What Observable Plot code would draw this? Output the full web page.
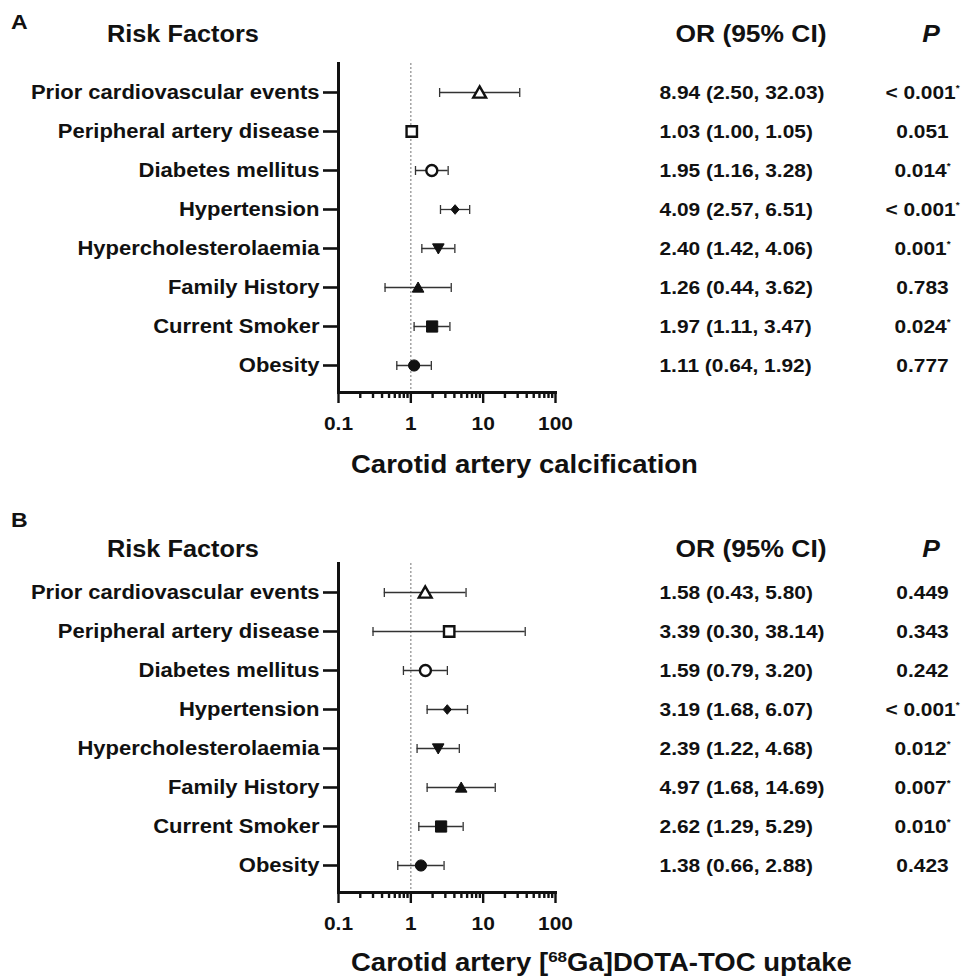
<!DOCTYPE html>
<html>
<head>
<meta charset="utf-8">
<script src="https://cdn.jsdelivr.net/npm/d3@7"></script>
<script src="https://cdn.jsdelivr.net/npm/@observablehq/plot@0.6"></script>
<style>
  body { margin: 0; background: #fff; }
  #fig { position: relative; width: 965px; height: 977px; overflow: hidden; background: #fff;
         font-family: "Liberation Sans", Arial, sans-serif; font-weight: bold; color: #111; }
  #fig svg { position: absolute; left: 0; }
  .hd { position: absolute; white-space: nowrap; line-height: 1; }
</style>
</head>
<body>
<div id="fig"></div>
<script>
// ---------------- data ----------------
const factors = ["Prior cardiovascular events", "Peripheral artery disease", "Diabetes mellitus",
  "Hypertension", "Hypercholesterolaemia", "Family History", "Current Smoker", "Obesity"];

const orA = [8.94, 1.03, 1.95, 4.09, 2.40, 1.26, 1.97, 1.11];
const loA = [2.50, 1.00, 1.16, 2.57, 1.42, 0.44, 1.11, 0.64];
const hiA = [32.03, 1.05, 3.28, 6.51, 4.06, 3.62, 3.47, 1.92];
const pA  = ["<0.001", "0.051", "0.014", "<0.001", "0.001", "0.783", "0.024", "0.777"];

const orB = [1.58, 3.39, 1.59, 3.19, 2.39, 4.97, 2.62, 1.38];
const loB = [0.43, 0.30, 0.79, 1.68, 1.22, 1.68, 1.29, 0.66];
const hiB = [5.80, 38.14, 3.20, 6.07, 4.68, 14.69, 5.29, 2.88];
const pB  = ["0.449", "0.343", "0.242", "<0.001", "0.012", "0.007", "0.010", "0.423"];

const xDomain = [0.1, 100];
const xTicks = [0.1, 1, 10, 100];
const xTickLabels = ["0.1", "1", "10", "100"];

// ---------------- marker styling (per row) ----------------
const markerShape  = ["triangle", "square", "circle", "diamond", "triangleDown", "triangle", "square", "circle"];
const markerFilled = [false, false, false, true, true, true, true, true];
const markerR      = [6.4, 5.2, 5.5, 4.8, 5.8, 5.8, 5.6, 5.6];

const rad = s => Math.sqrt(s / Math.PI);
const shapes = {
  triangle:     {draw(c, s) { const r = rad(s); c.moveTo(0, -0.95 * r); c.lineTo(r, 0.8 * r); c.lineTo(-r, 0.8 * r); c.closePath(); }},
  triangleDown: {draw(c, s) { const r = rad(s); c.moveTo(0, 0.95 * r); c.lineTo(r, -0.8 * r); c.lineTo(-r, -0.8 * r); c.closePath(); }},
  square:       {draw(c, s) { const r = rad(s); c.rect(-r, -r, 2 * r, 2 * r); }},
  circle:       {draw(c, s) { const r = rad(s); c.moveTo(r, 0); c.arc(0, 0, r, 0, 2 * Math.PI); }},
  diamond:      {draw(c, s) { const r = rad(s); c.moveTo(0, -r); c.lineTo(0.85 * r, 0); c.lineTo(0, r); c.lineTo(-0.85 * r, 0); c.closePath(); }}
};
const vbar = {draw(c, s) { const r = rad(s); c.moveTo(0, -r); c.lineTo(0, r); }};

const minorTicks = d3.scaleLog().domain(xDomain).ticks().filter(t => !xTicks.some(m => Math.abs(m - t) < 1e-9));

const FONT = "'Liberation Sans', Arial, Helvetica, sans-serif";
const STRETCH = 1.1;

function rowsOf(or, lo, hi, p) {
  return factors.map((f, i) => {
    const sig = p[i].startsWith("<") || +p[i] < 0.05;
    return {
      factor: f, or: or[i], lo: lo[i], hi: hi[i],
      orText: `${or[i].toFixed(2)} (${lo[i].toFixed(2)}, ${hi[i].toFixed(2)})`,
      pText: p[i].replace("<", "< ") + (sig ? "*" : "")
    };
  });
}

function panel(rows, height) {
  const symMarks = rows.map((d, i) => Plot.dot([d], {
    x: "or", y: "factor", symbol: shapes[markerShape[i]], r: markerR[i],
    fill: markerFilled[i] ? "#111" : "#fff", stroke: "#111",
    strokeWidth: markerFilled[i] ? 1 : 2.4
  }));
  const xEnd = () => xDomain[1];
  return Plot.plot({
    width: 965, height,
    marginLeft: 338, marginRight: 410, marginTop: 63, marginBottom: height - 392,
    style: {fontFamily: FONT, fontSize: "20px", fontWeight: "bold", color: "#111", background: "transparent", overflow: "visible"},
    x: {type: "log", domain: xDomain},
    y: {type: "point", domain: factors, range: [91.5, 365.5], padding: 0},
    marks: [
      Plot.ruleX([1], {stroke: "#8c8c8c", strokeDasharray: "2,2", strokeWidth: 1.2}),
      Plot.axisX({ticks: minorTicks, tickSize: 6, strokeWidth: 2.4, tickFormat: () => "", label: null}),
      Plot.axisX({ticks: xTicks, tickSize: 11, tickPadding: 13, strokeWidth: 2.4,
        tickFormat: d => xTickLabels[xTicks.indexOf(d)], label: null, fontSize: 19}),
      Plot.axisY({tickSize: 15, tickPadding: 4, strokeWidth: 2.6, label: null, fontSize: 20}),
      Plot.frame({anchor: "left", strokeWidth: 3}),
      Plot.frame({anchor: "bottom", strokeWidth: 3}),
      Plot.ruleY(rows, {y: "factor", x1: "lo", x2: "hi", stroke: "#333", strokeWidth: 1.3}),
      Plot.dot(rows, {x: "lo", y: "factor", symbol: vbar, r: 4.5, stroke: "#333", strokeWidth: 1.3, fill: "none"}),
      Plot.dot(rows, {x: "hi", y: "factor", symbol: vbar, r: 4.5, stroke: "#333", strokeWidth: 1.3, fill: "none"}),
      ...symMarks,
      Plot.text(rows, {x: xEnd, y: "factor", text: "orText", dx: 104, textAnchor: "start", fontSize: 19, fill: "#111"}),
      Plot.text(rows, {x: xEnd, y: "factor", text: "pText", dx: 367, textAnchor: "middle", fontSize: 19, fill: "#111", className: "pval"})
    ]
  });
}

const fig = document.getElementById("fig");

function addPanel(rows, top, height) {
  const svg = panel(rows, height);
  svg.style.top = top + "px";
  fig.appendChild(svg);
  // small superscript significance asterisk
  svg.querySelectorAll(".pval text").forEach(t => {
    const s = t.textContent;
    if (s.endsWith("*")) {
      t.textContent = s.slice(0, -1);
      const ts = document.createElementNS("http://www.w3.org/2000/svg", "tspan");
      ts.setAttribute("font-size", "9");
      ts.setAttribute("dy", "-8");
      ts.textContent = "*";
      t.appendChild(ts);
    }
  });
  // slightly wide lettering as in the original figure
  svg.querySelectorAll("text").forEach(t => {
    const w = t.getComputedTextLength();
    if (w > 0) { t.setAttribute("textLength", (w * STRETCH).toFixed(1)); t.setAttribute("lengthAdjust", "spacingAndGlyphs"); }
  });
}

addPanel(rowsOf(orA, loA, hiA, pA), 0, 500);
addPanel(rowsOf(orB, loB, hiB, pB), 500, 477);

function header(html, x, cy, size, anchor = "start", italic = false) {
  const d = document.createElement("div");
  d.className = "hd";
  d.innerHTML = html;
  d.style.fontSize = size + "px";
  d.style.left = x + "px";
  d.style.top = (cy - 0.49 * size) + "px";
  if (italic) d.style.fontStyle = "italic";
  if (anchor === "middle") { d.style.transformOrigin = "50% 50%"; d.style.transform = `translateX(-50%) scaleX(${STRETCH})`; }
  else { d.style.transformOrigin = "0 50%"; d.style.transform = `scaleX(${STRETCH})`; }
  fig.appendChild(d);
}

// Panel A headings
header("A", 11, 21, 21);
header("Risk Factors", 107, 34, 23);
header("OR (95% CI)", 751, 34, 24, "middle");
header("P", 931, 34, 24, "middle", true);
header("Carotid artery calcification", 351, 464, 25);
// Panel B headings
header("B", 11, 519, 21);
header("Risk Factors", 107, 549, 23);
header("OR (95% CI)", 751, 549, 24, "middle");
header("P", 931, 549, 24, "middle", true);
header("Carotid artery [<sup style=\"font-size:0.62em;vertical-align:0.55em;line-height:0\">68</sup>Ga]DOTA-TOC uptake", 351, 962, 25);
</script>
</body>
</html>
